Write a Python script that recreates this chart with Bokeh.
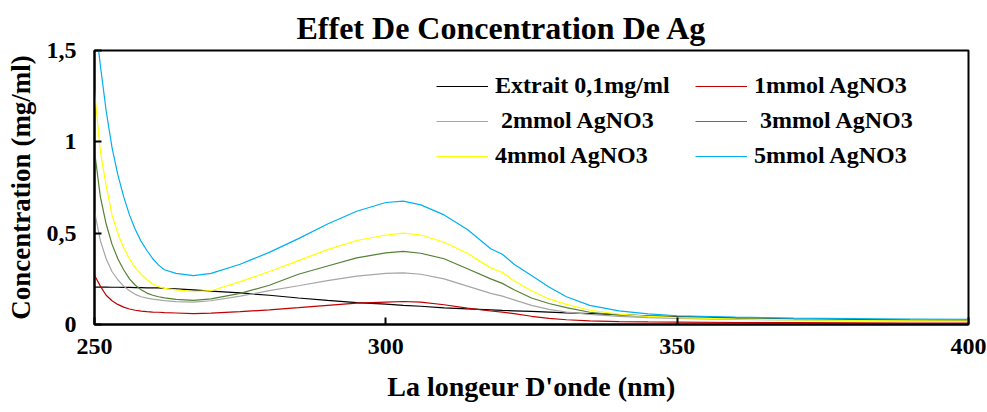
from bokeh.plotting import figure
from bokeh.models import Range1d, Legend, LegendItem
from bokeh.embed import file_html
from bokeh.resources import INLINE

# Absorption spectra: wavelength (nm) and concentration (mg/ml) for each sample
wavelength = [250, 251, 252, 253, 254, 255, 256, 257, 258, 259, 260, 261, 262, 264,
              267, 270, 275, 280, 285, 290, 295, 300, 303, 306, 310, 314, 318, 320,
              322, 325, 328, 331, 335, 340, 345, 350, 360, 370, 380, 390, 400]

extrait = [0.205, 0.205, 0.205, 0.204, 0.204, 0.203, 0.203, 0.202, 0.202, 0.201, 0.200,
           0.200, 0.198, 0.195, 0.190, 0.183, 0.173, 0.160, 0.145, 0.132, 0.120, 0.112,
           0.105, 0.100, 0.091, 0.085, 0.080, 0.077, 0.075, 0.072, 0.068, 0.064, 0.060,
           0.054, 0.048, 0.043, 0.036, 0.030, 0.027, 0.024, 0.022]

agno3_1 = [0.270, 0.210, 0.160, 0.130, 0.110, 0.095, 0.085, 0.078, 0.073, 0.070, 0.068,
           0.067, 0.065, 0.063, 0.060, 0.062, 0.070, 0.080, 0.092, 0.105, 0.117, 0.123,
           0.126, 0.122, 0.108, 0.090, 0.074, 0.068, 0.060, 0.045, 0.034, 0.026, 0.020,
           0.016, 0.014, 0.013, 0.011, 0.010, 0.009, 0.008, 0.007]

agno3_2 = [0.620, 0.460, 0.360, 0.290, 0.245, 0.210, 0.185, 0.165, 0.152, 0.144, 0.139,
           0.135, 0.131, 0.125, 0.122, 0.130, 0.155, 0.185, 0.212, 0.240, 0.265, 0.280,
           0.283, 0.275, 0.250, 0.210, 0.170, 0.155, 0.135, 0.105, 0.083, 0.068, 0.055,
           0.045, 0.038, 0.033, 0.028, 0.025, 0.022, 0.020, 0.020]

agno3_3 = [0.950, 0.700, 0.550, 0.440, 0.360, 0.300, 0.250, 0.215, 0.190, 0.172, 0.160,
           0.152, 0.146, 0.138, 0.132, 0.140, 0.170, 0.215, 0.275, 0.320, 0.365, 0.392,
           0.400, 0.390, 0.360, 0.305, 0.250, 0.225, 0.190, 0.145, 0.115, 0.092, 0.067,
           0.052, 0.045, 0.040, 0.033, 0.028, 0.025, 0.023, 0.022]

agno3_4 = [1.280, 0.950, 0.760, 0.600, 0.500, 0.420, 0.360, 0.310, 0.275, 0.245, 0.222,
           0.207, 0.198, 0.190, 0.180, 0.185, 0.235, 0.290, 0.350, 0.410, 0.460, 0.490,
           0.500, 0.490, 0.450, 0.390, 0.310, 0.285, 0.240, 0.185, 0.140, 0.110, 0.078,
           0.057, 0.045, 0.038, 0.030, 0.025, 0.022, 0.020, 0.018]

agno3_5 = [1.700, 1.420, 1.170, 0.970, 0.820, 0.700, 0.600, 0.520, 0.455, 0.405, 0.360,
           0.325, 0.300, 0.280, 0.268, 0.280, 0.330, 0.395, 0.470, 0.550, 0.620, 0.668,
           0.675, 0.655, 0.600, 0.520, 0.415, 0.385, 0.330, 0.268, 0.205, 0.152, 0.105,
           0.075, 0.058, 0.048, 0.040, 0.035, 0.032, 0.030, 0.028]

series_labels = ["Extrait 0,1mg/ml", "1mmol AgNO3", " 2mmol AgNO3",
                 " 3mmol AgNO3", "4mmol AgNO3", "5mmol AgNO3"]
series_values = [extrait, agno3_1, agno3_2, agno3_3, agno3_4, agno3_5]
series_colors = ["#000000", "#c00000", "#a6a6a6", "#548235", "#ffff00", "#00b0f0"]

x_ticks = [250, 300, 350, 400]
x_tick_labels = ["250", "300", "350", "400"]
y_ticks = [0, 0.5, 1, 1.5]
y_tick_labels = ["0", "0,5", "1", "1,5"]

FONT = "Liberation Serif"

p = figure(width=987, height=412, output_backend="svg", toolbar_location=None,
           x_range=Range1d(250, 400), y_range=Range1d(0, 1.5),
           min_border_left=94, min_border_right=19, min_border_top=50,
           min_border_bottom=88)

p.title.text = "Effet De Concentration De Ag"
p.title.text_font = FONT
p.title.text_font_style = "bold"
p.title.text_font_size = "32px"
p.title.align = "left"
p.title.offset = 202
p.title.text_color = "#000000"

renderers = []
for vals, color in zip(series_values, series_colors):
    r = p.line(wavelength, vals, line_color=color, line_width=1.2)
    renderers.append(r)

# axes
p.xgrid.visible = False
p.ygrid.visible = False
p.outline_line_color = "#000000"
p.outline_line_width = 2

p.xaxis.ticker = x_ticks
p.xaxis.major_label_overrides = dict(zip(x_ticks, x_tick_labels))
p.yaxis.ticker = y_ticks
p.yaxis.major_label_overrides = dict(zip(y_ticks, y_tick_labels))

for ax in (p.xaxis[0], p.yaxis[0]):
    ax.axis_line_color = "#000000"
    ax.axis_line_width = 2
    ax.major_tick_in = 7
    ax.major_tick_out = 0
    ax.major_tick_line_width = 2
    ax.major_tick_line_color = "#000000"
    ax.minor_tick_line_color = None
    ax.major_label_text_font = FONT
    ax.major_label_text_font_style = "bold"
    ax.major_label_text_font_size = "24px"
    ax.major_label_text_color = "#000000"
    ax.axis_label_text_font = FONT
    ax.axis_label_text_font_style = "bold"
    ax.axis_label_text_color = "#000000"

p.xaxis.axis_label = "La longeur D'onde (nm)"
p.xaxis.axis_label_text_font_size = "28px"
p.xaxis.major_label_standoff = 14
p.xaxis.axis_label_standoff = 14

p.yaxis.axis_label = "Concentration (mg/ml)"
p.yaxis.axis_label_text_font_size = "27px"
p.yaxis.major_label_standoff = 18
p.yaxis.axis_label_standoff = 8

# legend in two columns
def make_legend(idx, loc):
    items = [LegendItem(label=series_labels[i], renderers=[renderers[i]]) for i in idx]
    lg = Legend(items=items, location=loc, orientation="vertical")
    lg.label_text_font = FONT
    lg.label_text_font_style = "bold"
    lg.label_text_font_size = "24px"
    lg.label_text_color = "#000000"
    lg.glyph_width = 52
    lg.glyph_height = 24
    lg.label_height = 24
    lg.spacing = 8
    lg.label_standoff = 7
    lg.padding = 10
    lg.margin = 0
    lg.border_line_color = None
    lg.background_fill_alpha = 0
    return lg

p.add_layout(make_legend([0, 2, 4], (342, 155)), "center")
p.add_layout(make_legend([1, 3, 5], (601, 155)), "center")

open("out.html", "w").write(file_html(p, INLINE))
